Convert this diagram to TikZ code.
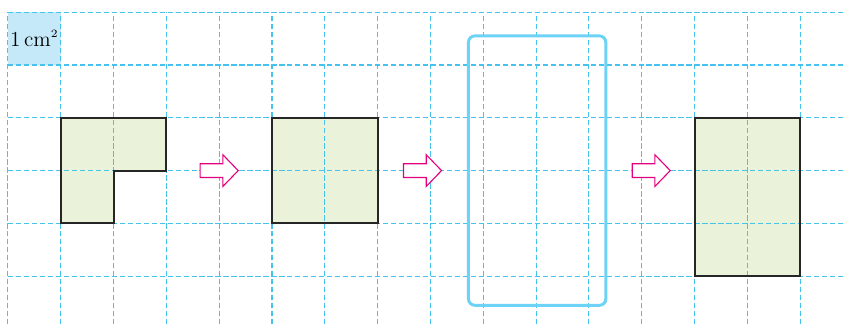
\documentclass[tikz,border=0pt]{standalone}
\usepackage{tikz}

\definecolor{gridblue}{HTML}{45C3EE}
\definecolor{unitfill}{HTML}{C6E9F9}
\definecolor{areafill}{HTML}{EAF2DA}
\definecolor{arrowpink}{HTML}{E5007F}
\definecolor{framecyan}{HTML}{6CD2F6}

\begin{document}
\begin{tikzpicture}[
            gridline/.style={gridblue, line width=0.6pt, dash pattern=on 2.8pt off 1.5pt},
            figure/.style={draw=black!85, line width=1.1pt, line join=miter},
            hollowarrow/.style={draw=arrowpink, fill=white, line width=0.6pt, line join=miter},
            frame/.style={draw=framecyan, line width=1.6pt, rounded corners=0.12cm}
          ]

          % Picture size, margins included
          \useasboundingbox (-0.15,0.09) rectangle (15.83,6.23);

          % Unit square and fills (under the grid)
          \fill[unitfill] (0,5) rectangle (1,6);
          \fill[areafill] (1,4) -- (3,4) -- (3,3) -- (2,3) -- (2,2) -- (1,2) -- cycle;
          \fill[areafill] (5,2) rectangle (7,4);
          \fill[areafill] (13,1) rectangle (15,4);

          % Dashed centimetre grid
          \foreach \x in {0,...,15}
            \draw[gridline] (\x,0.09) -- (\x,6);
          \foreach \y in {1,...,6}
            \draw[gridline] (0,\y) -- (15.83,\y);

          \node[font=\fontsize{11.5}{13}\selectfont] (unit) at (0.5,5.5) {1\,cm$^{\scriptscriptstyle 2}$};

          % Shapes
          \draw[figure] (1,4) -- (3,4) -- (3,3) -- (2,3) -- (2,2) -- (1,2) -- cycle;
          \draw[figure] (5,2) rectangle (7,4);
          \draw[frame] (8.72,0.45) rectangle (11.32,5.55);
          \draw[figure] (13,1) rectangle (15,4);

          % Hollow arrows
          \foreach \x in {3.64,7.49,11.82}
            \draw[hollowarrow] (\x,3.13) -- ++(0.43,0) -- ++(0,0.17) -- ++(0.29,-0.30)
              -- ++(-0.29,-0.30) -- ++(0,0.17) -- ++(-0.43,0) -- cycle;

        \end{tikzpicture}
\end{document}
